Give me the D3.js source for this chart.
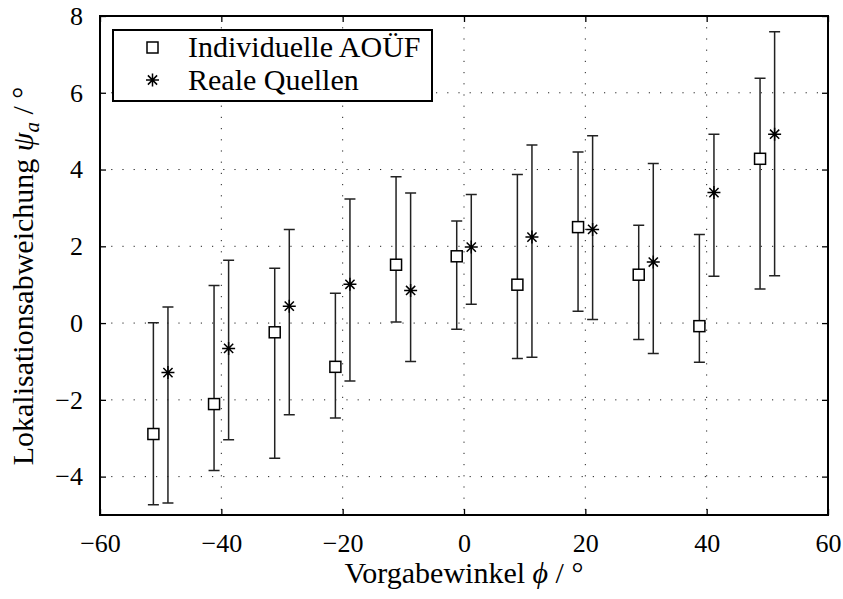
<!DOCTYPE html>
<html lang="de">
<head>
<meta charset="UTF-8">
<title>Lokalisationsabweichung</title>
<script src="https://d3js.org/d3.v7.min.js"></script>
<style>
  body { margin: 0; background: #fff; }
</style>
</head>
<body>
<div id="chart"></div>
<script>
// Vorgabewinkel (Kategorien)
const angles = [-50, -40, -30, -20, -10, 0, 10, 20, 30, 40, 50];

// Individuelle AOÜF: Mittelwert, untere / obere Grenze
const aoufMean  = [-2.89, -2.11, -0.24, -1.14, 1.52, 1.74, 1.00, 2.50, 1.26, -0.08, 4.28];
const aoufLow   = [-4.73, -3.84, -3.52, -2.47, 0.03, -0.16, -0.92, 0.31, -0.43, -1.02, 0.89];
const aoufHigh  = [0.01, 0.98, 1.43, 0.78, 3.81, 2.66, 3.87, 4.46, 2.55, 2.31, 6.38];

// Reale Quellen
const realMean  = [-1.29, -0.66, 0.44, 1.01, 0.85, 1.98, 2.24, 2.44, 1.59, 3.40, 4.92];
const realLow   = [-4.69, -3.04, -2.39, -1.51, -1.00, 0.49, -0.89, 0.09, -0.79, 1.22, 1.23];
const realHigh  = [0.42, 1.64, 2.44, 3.23, 3.39, 3.35, 4.64, 4.88, 4.16, 4.92, 7.59];

const xTicks = [-60, -40, -20, 0, 20, 40, 60];
const yTicks = [-4, -2, 0, 2, 4, 6, 8];

const FONT = "'Liberation Serif', 'Times New Roman', Times, 'DejaVu Serif', serif";

const W = 843, H = 599;
const m = {left: 100, right: 15, top: 16, bottom: 84};
const iw = W - m.left - m.right, ih = H - m.top - m.bottom;

const svg = d3.select("#chart").append("svg")
  .attr("width", W).attr("height", H);

const x = d3.scaleLinear().domain([-60, 60]).range([0, iw]);
const y = d3.scaleLinear().domain([-5, 8]).range([ih, 0]);

const g = svg.append("g").attr("transform", `translate(${m.left},${m.top})`);

// Gitter (gepunktet)
g.append("g").selectAll("line").data(xTicks.slice(1, -1)).join("line")
  .attr("x1", d => x(d)).attr("x2", d => x(d))
  .attr("y1", 0).attr("y2", ih)
  .attr("stroke", "#222").attr("stroke-width", 1)
  .attr("stroke-dasharray", "1.2,10");
g.append("g").selectAll("line").data(yTicks.filter(d => d < 8)).join("line")
  .attr("x1", 0).attr("x2", iw)
  .attr("y1", d => y(d)).attr("y2", d => y(d))
  .attr("stroke", "#222").attr("stroke-width", 1)
  .attr("stroke-dasharray", "1.2,10");

// Achsen
const fmt = d => d < 0 ? "\u2212" + (-d) : d;
g.append("g").attr("transform", `translate(0,${ih})`)
  .call(d3.axisBottom(x).tickValues(xTicks).tickSizeInner(-6).tickSizeOuter(0)
    .tickFormat(fmt).tickPadding(19));
g.append("g")
  .call(d3.axisLeft(y).tickValues(yTicks).tickSizeInner(-6).tickSizeOuter(0)
    .tickFormat(fmt).tickPadding(17));
g.append("g")
  .call(d3.axisTop(x).tickValues(xTicks).tickSizeInner(-6).tickSizeOuter(0).tickFormat(""));
g.append("g").attr("transform", `translate(${iw},0)`)
  .call(d3.axisRight(y).tickValues(yTicks).tickSizeInner(-6).tickSizeOuter(0).tickFormat(""));

svg.selectAll(".domain").remove();
svg.selectAll(".tick line").attr("stroke", "#000").attr("stroke-width", 1.3);
svg.selectAll(".tick text").style("font-size", "26px");

g.append("rect").attr("width", iw).attr("height", ih)
  .attr("fill", "none").attr("stroke", "#000").attr("stroke-width", 2);

// Fehlerbalken
const off = 1.2, cap = 5.5;
function errorBars(mean, low, high, dx, cls) {
  const data = angles.map((a, i) => ({a: a + dx, m: mean[i], lo: low[i], hi: high[i]}));
  const gg = g.append("g").attr("class", cls)
    .attr("stroke", "#222").attr("stroke-width", 1.5).attr("fill", "none");
  gg.selectAll("path.bar").data(data).join("path").attr("class", "bar")
    .attr("d", d => {
      const cx = x(d.a), yl = y(d.lo), yh = y(d.hi);
      return `M${cx},${yl}V${yh}M${cx - cap},${yl}H${cx + cap}M${cx - cap},${yh}H${cx + cap}`;
    });
  return {gg, data};
}

const sq = errorBars(aoufMean, aoufLow, aoufHigh, -off, "aouf");
sq.gg.selectAll("rect").data(sq.data).join("rect")
  .attr("x", d => x(d.a) - 5.5).attr("y", d => y(d.m) - 5.5)
  .attr("width", 11).attr("height", 11)
  .attr("fill", "#fff").attr("stroke", "#000").attr("stroke-width", 1.5);

const starPath = r => {
  let p = "";
  [0, 45, 90, 135].forEach(deg => {
    const t = deg * Math.PI / 180, dx = r * Math.cos(t), dy = r * Math.sin(t);
    p += `M${-dx},${-dy}L${dx},${dy}`;
  });
  return p;
};
const st = errorBars(realMean, realLow, realHigh, off, "real");
st.gg.selectAll("path.star").data(st.data).join("path").attr("class", "star")
  .attr("transform", d => `translate(${x(d.a)},${y(d.m)})`)
  .attr("d", starPath(6.5)).attr("stroke", "#000").attr("stroke-width", 1.5);

// Legende
const lg = svg.append("g").attr("transform", "translate(113,30)");
lg.append("rect").attr("width", 319).attr("height", 71)
  .attr("fill", "#fff").attr("stroke", "#000").attr("stroke-width", 2);
lg.append("rect").attr("x", 34).attr("y", 12).attr("width", 11).attr("height", 11)
  .attr("fill", "#fff").attr("stroke", "#000").attr("stroke-width", 1.5);
lg.append("path").attr("transform", "translate(39.5,50)").attr("d", starPath(6.5))
  .attr("stroke", "#000").attr("stroke-width", 1.5);
lg.append("text").attr("x", 75).attr("y", 27).style("font-size", "30px").text("Individuelle AOÜF");
lg.append("text").attr("x", 75).attr("y", 60).style("font-size", "30px").text("Reale Quellen");

// Achsentitel
const xl = svg.append("text").attr("x", m.left + iw / 2).attr("y", 583)
  .attr("text-anchor", "middle").style("font-size", "30px");
xl.append("tspan").text("Vorgabewinkel ");
xl.append("tspan").style("font-style", "italic").text("\u03D5");
xl.append("tspan").text(" / °");

const yl = svg.append("text")
  .attr("transform", "translate(33,276) rotate(-90)")
  .attr("text-anchor", "middle").style("font-size", "30px");
yl.append("tspan").text("Lokalisationsabweichung ");
yl.append("tspan").style("font-style", "italic").text("ψ");
yl.append("tspan").style("font-style", "italic").attr("dy", 6).style("font-size", "21px").text("a");
yl.append("tspan").attr("dy", -6).text(" / °");

// Schrift für alle Texte
svg.selectAll("text").style("font-family", FONT).attr("fill", "#000");
</script>
</body>
</html>
